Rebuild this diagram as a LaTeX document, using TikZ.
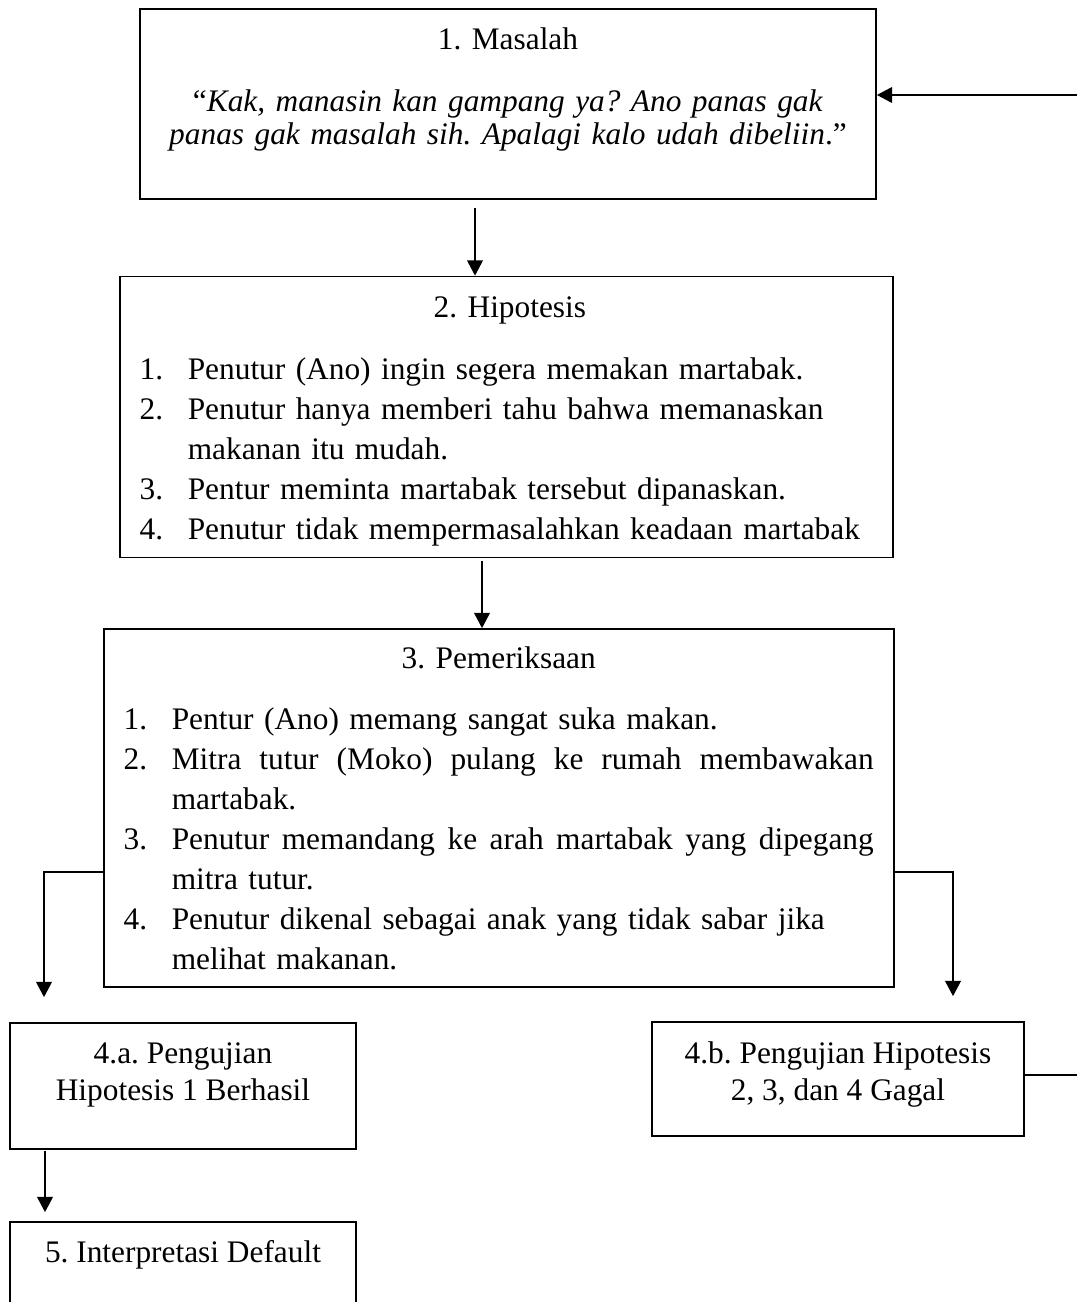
\documentclass[tikz,border=0pt]{standalone}
\usepackage{fontspec}
\setmainfont{Liberation Serif}
\usetikzlibrary{arrows.meta,calc,positioning}

\tikzset{
    kotak/.style={draw, line width=0.6pt, rectangle, inner sep=0pt},
    isi/.style={inner sep=0pt, anchor=north, font=\fontsize{11.35}{14.5}\selectfont\frenchspacing},
    panah/.style={line width=0.75pt, -{Triangle[length=5.5pt,width=5.6pt]}},
    garis/.style={line width=0.6pt},
}

% one numbered point with hanging indent
\newcommand{\butir}[2]{\par\hangindent=17.4pt\hangafter=1\noindent\makebox[17.4pt][l]{#1}#2\par}
% a line stretched to a given width
\newcommand{\regang}[2]{\makebox[#1][s]{\spaceskip=\fontdimen2\font plus 1fil\relax #2}}
% first line of a point stretched to the full width
\newcommand{\rata}[1]{\regang{\dimexpr\hsize-17.4pt\relax}{#1}}

\begin{document}
\begin{tikzpicture}[x=0.362pt, y=0.362pt]
        \useasboundingbox (0, 0) rectangle (1077, -1302);
        \clip (0, 0) rectangle (1077, -1302);

        % boxes
        \node[kotak, minimum width=736*0.362pt, minimum height=190*0.362pt] (masalah) at (508, -104) {};
        \node[kotak, minimum width=773*0.362pt, minimum height=281*0.362pt] (hipotesis) at (506.5, -417) {};
        \node[kotak, minimum width=790*0.362pt, minimum height=358*0.362pt] (periksa) at (499, -808) {};
        \node[kotak, minimum width=346*0.362pt, minimum height=126*0.362pt] (uji1) at (183, -1086) {};
        \node[kotak, minimum width=372*0.362pt, minimum height=114*0.362pt] (uji2) at (838, -1079) {};
        \node[kotak, minimum width=346*0.362pt, minimum height=96*0.362pt] (default) at (183, -1270) {};

        % texts
        \node[isi, text width=265pt, align=center, font=\fontsize{11.35}{12}\selectfont\frenchspacing] (tmasalah) at ($(masalah.north)+(0, -19)$)
            {1. Masalah\\[10.4pt]
             “\textit{Kak, manasin kan gampang ya? Ano panas gak}\\
             \textit{panas gak masalah sih. Apalagi kalo udah dibeliin}.”};
        \node[isi, anchor=north west, text width=268pt] (thipotesis) at ($(hipotesis.north west)+(20, -21)$)
            {{\centering 2. Hipotesis\par}\vspace{7.6pt}
             \butir{1.}{Penutur (Ano) ingin segera memakan martabak.}
             \butir{2.}{Penutur hanya memberi tahu bahwa memanaskan\newline makanan itu mudah.}
             \butir{3.}{Pentur meminta martabak tersebut dipanaskan.}
             \butir{4.}{Penutur tidak mempermasalahkan keadaan martabak}};
        \node[isi, anchor=north west, text width=271.5pt] (tperiksa) at ($(periksa.north west)+(20, -18)$)
            {{\centering 3. Pemeriksaan\par}\vspace{7.6pt}
             \butir{1.}{Pentur (Ano) memang sangat suka makan.}
             \butir{2.}{\rata{Mitra tutur (Moko) pulang ke rumah membawakan}\newline martabak.}
             \butir{3.}{\rata{Penutur memandang ke arah martabak yang dipegang}\newline mitra tutur.}
             \butir{4.}{Penutur dikenal sebagai anak yang tidak sabar jika\newline melihat makanan.}};
        \node[isi, align=center, font=\fontsize{11.35}{13.4}\selectfont\frenchspacing] (tuji1) at ($(uji1.north)+(0, -20)$) {4.a. Pengujian\\Hipotesis 1 Berhasil};
        \node[isi, align=center, font=\fontsize{11.35}{13.4}\selectfont\frenchspacing] (tuji2) at ($(uji2.north)+(0, -20)$) {4.b. Pengujian Hipotesis\\2, 3, dan 4 Gagal};
        \node[isi, align=center] (tdefault) at ($(default.north)+(0, -19)$) {5. Interpretasi Default};

        % connectors
        \coordinate (tepibawah) at (1077, -1075);
        \coordinate (tepiatas) at (1077, -95);
        \draw[panah] ($(masalah.south)+(-33, -8)$) -- ($(hipotesis.north)+(-31.5, 0)$);
        \draw[panah] ($(hipotesis.south)+(-24.5, -3)$) -- ($(periksa.north)+(-17, 0)$);
        \draw[panah] ($(periksa.west)+(0, -64)$) -| ($(uji1.north)+(-139, 25)$);
        \draw[panah] ($(periksa.east)+(0, -64)$) -| ($(uji2.north)+(115, 25)$);
        \draw[panah] ($(uji1.south)+(-138, -1)$) -- ($(default.north)+(-138, 9)$);
        \draw[garis] ($(uji2.east)+(0, 4)$) -- (tepibawah);
        \draw[panah] (tepiatas) -- ($(masalah.east)+(0, 9)$);
    \end{tikzpicture}
\end{document}
